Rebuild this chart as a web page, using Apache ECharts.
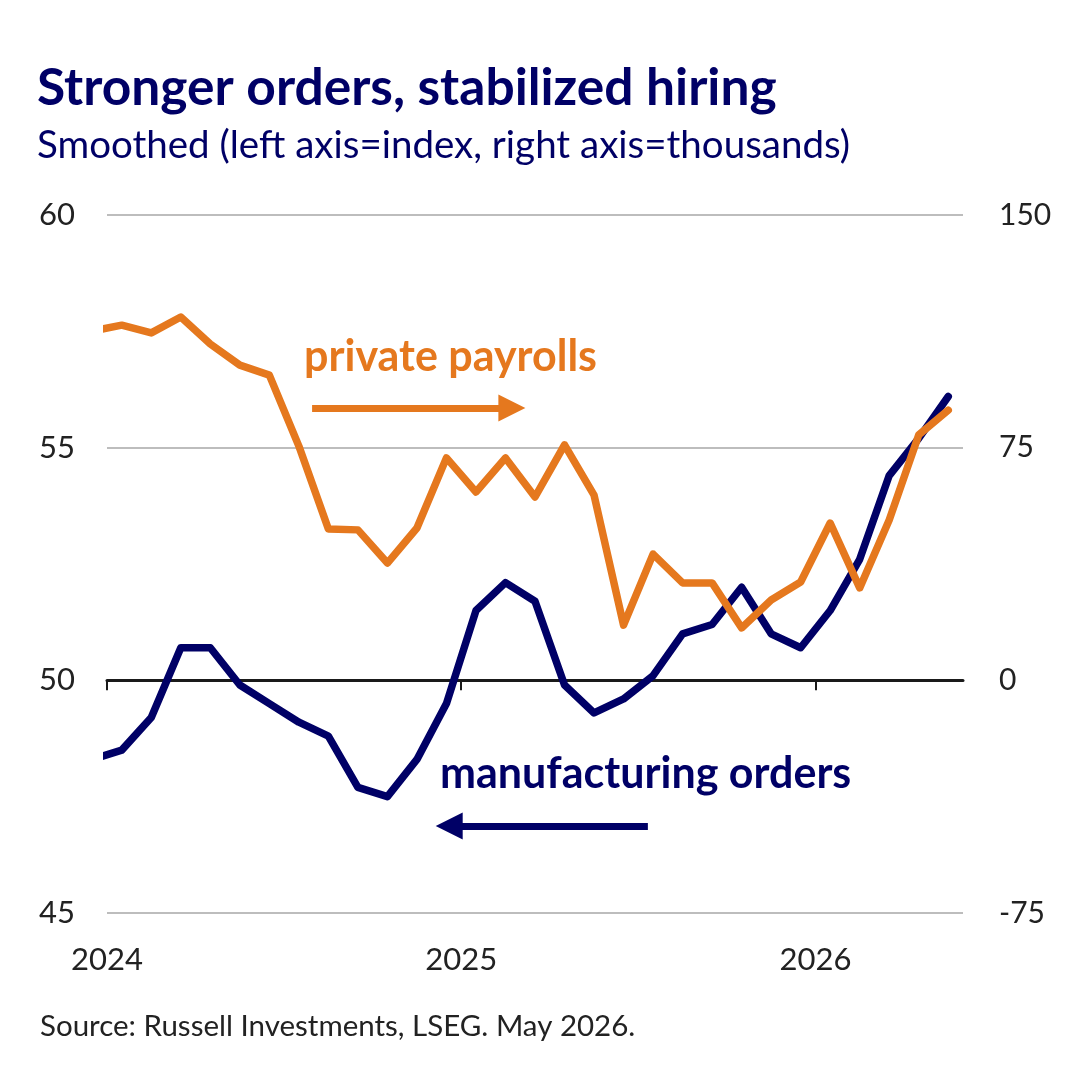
<!DOCTYPE html>
<html>
<head>
<meta charset="utf-8">
<title>Stronger orders, stabilized hiring</title>
<script src="https://cdn.jsdelivr.net/npm/echarts@6/dist/echarts.min.js"></script>
<style>
  html, body { margin: 0; padding: 0; background: #fff; }
  #chart { width: 1072px; height: 1077px; }
</style>
</head>
<body>
<div id="chart"></div>
<script>
// monthly readings, smoothed
var months = ['2023-12',
  '2024-01', '2024-02', '2024-03', '2024-04', '2024-05', '2024-06',
  '2024-07', '2024-08', '2024-09', '2024-10', '2024-11', '2024-12',
  '2025-01', '2025-02', '2025-03', '2025-04', '2025-05', '2025-06',
  '2025-07', '2025-08', '2025-09', '2025-10', '2025-11', '2025-12',
  '2026-01', '2026-02', '2026-03', '2026-04', '2026-05'];

// left axis, index
var mfgOrders = [48.3,
  48.5, 49.2, 50.7, 50.7, 49.9, 49.5,
  49.1, 48.8, 47.7, 47.5, 48.3, 49.5,
  51.5, 52.1, 51.7, 49.9, 49.3, 49.6,
  50.1, 51.0, 51.2, 52.0, 51.0, 50.7,
  51.5, 52.6, 54.4, 55.2, 56.1];

// right axis, thousands
var privatePayrolls = [112.6,
  114.5, 112.0, 117.1, 108.4, 101.6, 98.4,
  75.5, 48.8, 48.5, 37.8, 49.1, 71.7,
  60.7, 71.7, 59.1, 75.9, 59.7, 17.8,
  40.7, 31.4, 31.4, 16.9, 25.9, 31.7,
  50.7, 29.8, 51.7, 79.1, 87.1];

var yearTicks = [2024, 2025, 2026];
var leftTicks = [45, 50, 55, 60];
var rightTicks = [-75, 0, 75, 150];

var NAVY = '#000066';
var ORANGE = '#E5781E';
var FONT = 'Lato, "Open Sans", sans-serif';

// month string -> decimal year at mid-month
function toYear(m) {
  var p = m.split('-');
  return +p[0] + (+p[1] - 0.5) / 12;
}

function pairs(vals) {
  return months.map(function (m, i) { return [toYear(m), vals[i]]; });
}

var chart = echarts.init(document.getElementById('chart'));

var xMin = yearTicks[0];
var xMax = 2026 + 5 / 12; // end of May 2026

var option = {
  backgroundColor: '#fff',
  animation: false,
  textStyle: { fontFamily: FONT },
  title: [
    {
      text: 'Stronger orders, stabilized hiring',
      left: 32, top: 57,
      textStyle: { fontFamily: FONT, fontSize: 51.5, fontWeight: 'bold', color: NAVY }
    },
    {
      text: 'Smoothed (left axis=index, right axis=thousands)',
      left: 32, top: 121,
      textStyle: { fontFamily: FONT, fontSize: 38.5, fontWeight: 'normal', color: NAVY }
    },
    {
      text: 'Source: Russell Investments, LSEG. May 2026.',
      left: 35, top: 1006,
      textStyle: { fontFamily: FONT, fontSize: 29.5, fontWeight: 'normal', color: '#222' }
    }
  ],
  grid: { left: 107, right: 109, top: 215, bottom: 164, containLabel: false },
  xAxis: [
    {
      type: 'value', min: xMin, max: xMax,
      axisLine: { show: true, onZero: true, onZeroAxisIndex: 1, lineStyle: { color: '#1a1a1a', width: 3 } },
      axisTick: { show: true, customValues: yearTicks, length: 10, lineStyle: { color: '#1a1a1a', width: 2 } },
      axisLabel: { show: false },
      splitLine: { show: false }
    },
    {
      type: 'value', min: xMin, max: xMax, position: 'bottom',
      axisLine: { show: false, onZero: false },
      axisTick: { show: false },
      axisLabel: {
        customValues: yearTicks, margin: 31, fontSize: 31, color: '#222', fontFamily: FONT,
        formatter: function (v) { return String(Math.round(v)); }
      },
      splitLine: { show: false }
    }
  ],
  yAxis: [
    {
      type: 'value', min: leftTicks[0], max: leftTicks[3], interval: 5, position: 'left',
      axisLine: { show: false }, axisTick: { show: false },
      axisLabel: { fontSize: 31, color: '#222', margin: 32, fontFamily: FONT },
      splitLine: { show: true, lineStyle: { color: '#bdbdbd', width: 2 } }
    },
    {
      type: 'value', min: rightTicks[0], max: rightTicks[3], interval: 75, position: 'right',
      axisLine: { show: false }, axisTick: { show: false },
      axisLabel: { fontSize: 30, color: '#222', margin: 36, fontFamily: FONT },
      splitLine: { show: false }
    }
  ],
  graphic: [
    {
      type: 'text', left: 304, top: 336,
      style: { text: 'private payrolls', fill: ORANGE, font: 'bold 43px ' + FONT }
    },
    {
      type: 'text', left: 440, top: 753,
      style: { text: 'manufacturing orders', fill: NAVY, font: 'bold 43px ' + FONT }
    }
  ],
  series: [
    {
      name: 'manufacturing orders',
      type: 'line', xAxisIndex: 0, yAxisIndex: 0,
      data: pairs(mfgOrders),
      showSymbol: false, symbol: 'none',
      lineStyle: { color: NAVY, width: 7.5, join: 'round', cap: 'round' },
      z: 3,
      markLine: {
        silent: true, animation: false,
        symbol: ['none', 'triangle'], symbolSize: [27, 27],
        label: { show: false },
        lineStyle: { color: NAVY, width: 7, type: 'solid' },
        data: [[{ coord: [2025.527, 46.87] }, { coord: [2024.966, 46.87] }]]
      }
    },
    {
      name: 'private payrolls',
      type: 'line', xAxisIndex: 0, yAxisIndex: 1,
      data: pairs(privatePayrolls),
      showSymbol: false, symbol: 'none',
      lineStyle: { color: ORANGE, width: 7.5, join: 'round', cap: 'round' },
      z: 4,
      markLine: {
        silent: true, animation: false,
        symbol: ['none', 'triangle'], symbolSize: [27, 27],
        label: { show: false },
        lineStyle: { color: ORANGE, width: 7, type: 'solid' },
        data: [[{ coord: [2024.579, 87.8] }, { coord: [2025.143, 87.8] }]]
      }
    }
  ]
};

chart.setOption(option);
</script>
</body>
</html>
